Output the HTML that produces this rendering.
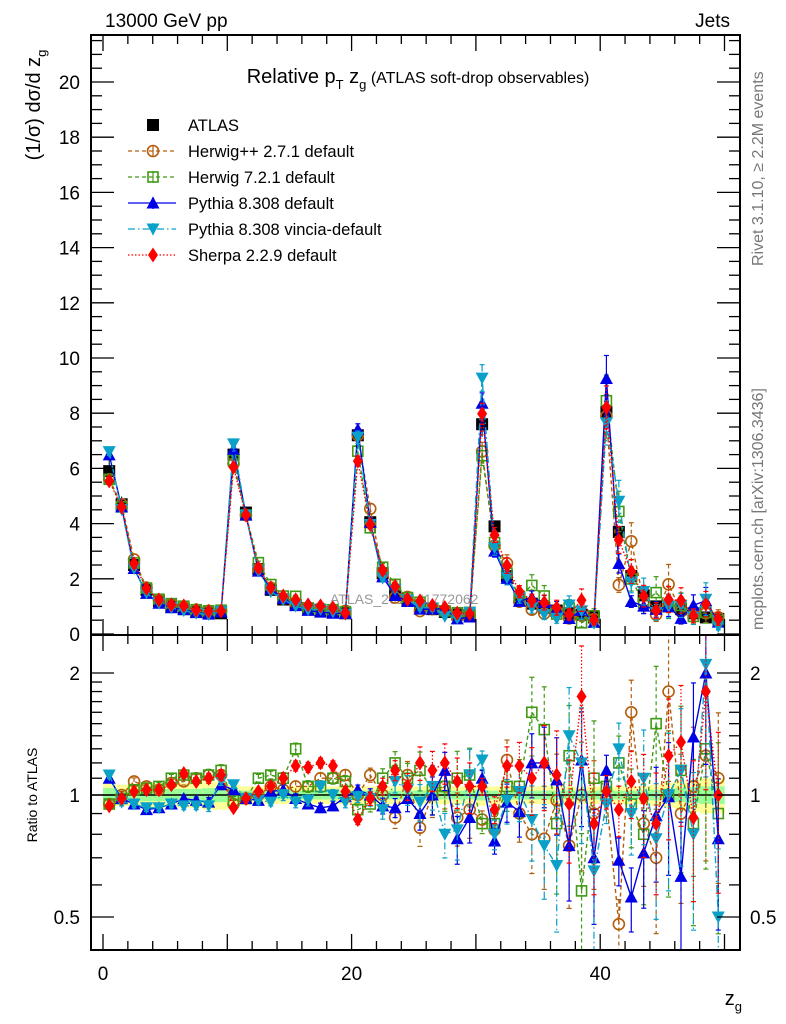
<!DOCTYPE html>
<html><head><meta charset="utf-8"><style>
body{margin:0;background:#fff}
svg{display:block;font-family:"Liberation Sans",sans-serif}
</style></head><body>
<svg id="c" width="786" height="1024" viewBox="0 0 786 1024" xmlns="http://www.w3.org/2000/svg">
<defs>
<clipPath id="cm"><rect x="91" y="35" width="649" height="600"/></clipPath>
<clipPath id="cr"><rect x="91" y="635" width="649" height="315"/></clipPath>
</defs>
<text x="105" y="27" font-size="19">13000 GeV pp</text>
<text x="730" y="27" font-size="19" text-anchor="end">Jets</text>
<text x="418" y="83" font-size="20" text-anchor="middle">Relative p<tspan dy="6" font-size="13">T</tspan><tspan dy="-6"> z</tspan><tspan dy="6" font-size="13">g</tspan><tspan dy="-6" font-size="16"> (ATLAS soft-drop observables)</tspan></text>
<text transform="translate(40,105) rotate(-90)" font-size="20" text-anchor="middle">(1/σ) dσ/d z<tspan dy="6" font-size="13">g</tspan></text>
<text transform="translate(37,795) rotate(-90)" font-size="14" text-anchor="middle">Ratio to ATLAS</text>
<text x="742" y="1005" font-size="20" text-anchor="end">z<tspan dy="6" font-size="13">g</tspan></text>
<text transform="translate(763,266) rotate(-90)" font-size="16" fill="#777">Rivet 3.1.10, ≥ 2.2M events</text>
<text transform="translate(763,630) rotate(-90)" font-size="16" fill="#777">mcplots.cern.ch [arXiv:1306.3436]</text>
<text x="330" y="604" font-size="14" fill="#999">ATLAS_2019_I1772062</text>
<g id="g"></g>
</svg>
<script>
const atlas=[5.9,4.7,2.5,1.6,1.2,1.0,0.9,0.8,0.75,0.75, 6.5,4.4,2.35,1.6,1.25,1.05,0.9,0.85,0.8,0.75, 7.2,4.05,2.2,1.5,1.2,1.0,0.9,0.8,0.7,0.7, 7.6,3.9,2.1,1.3,1.1,0.95,0.85,0.75,0.7,0.6, 8.05,3.7,2.1,1.4,1.0,1.0,0.9,0.75,0.6,0.55];
const atlasRelErr=[0.08,0.06,0.06,0.07,0.07,0.07,0.07,0.07,0.08,0.08, 0.06,0.05,0.05,0.05,0.05,0.05,0.05,0.05,0.05,0.05, 0.05,0.05,0.05,0.05,0.05,0.05,0.05,0.05,0.05,0.05, 0.06,0.05,0.05,0.05,0.05,0.05,0.05,0.05,0.05,0.05, 0.05,0.05,0.05,0.05,0.06,0.07,0.08,0.09,0.1,0.1];
const modelRelErr=[0.02,0.02,0.02,0.02,0.02,0.02,0.02,0.02,0.03,0.03, 0.02,0.02,0.02,0.02,0.03,0.03,0.03,0.03,0.03,0.03, 0.03,0.04,0.05,0.06,0.08,0.1,0.12,0.12,0.15,0.15, 0.05,0.08,0.12,0.15,0.2,0.25,0.3,0.3,0.35,0.35, 0.1,0.15,0.2,0.3,0.35,0.4,0.4,0.4,0.45,0.45];
const rHerwigpp=[0.95,1.0,1.08,1.05,1.03,1.07,1.08,1.1,1.12,1.12, 0.95,0.98,1.0,1.05,1.03,1.05,1.05,1.1,1.1,1.12, 1.0,1.12,1.0,0.88,1.12,0.83,1.0,1.05,0.88,0.92, 0.87,0.82,1.22,0.9,0.8,0.78,0.97,0.75,1.0,0.9, 0.98,0.48,1.6,0.85,0.7,1.8,0.9,1.05,1.25,1.1];
const rHerwig7=[0.95,0.98,1.03,1.04,1.05,1.1,1.12,1.1,1.12,1.15, 0.97,0.98,1.1,1.12,1.1,1.3,1.05,1.05,1.1,1.08, 0.92,0.95,1.1,1.2,1.1,1.15,1.03,1.05,1.1,1.12, 0.85,0.85,1.05,1.05,1.6,1.45,0.85,1.25,0.58,1.1, 1.05,1.2,0.95,0.8,1.5,1.0,1.15,0.85,1.3,0.9];
const rPythia=[1.1,0.98,0.95,0.92,0.93,0.95,0.98,0.97,0.96,1.06, 1.03,0.98,0.97,1.02,1.03,0.98,0.95,0.93,0.94,0.99, 1.03,1.0,0.94,0.93,0.98,0.9,1.0,1.15,0.78,0.88, 1.1,0.77,0.96,0.91,1.2,1.2,1.09,0.75,1.22,0.7, 1.15,0.69,0.56,0.72,0.89,0.99,0.63,1.39,2.0,0.78];
const rVincia=[1.12,0.96,0.95,0.93,0.93,0.95,0.94,0.94,0.94,1.09, 1.06,0.98,0.97,0.96,1.0,0.96,0.97,1.05,1.0,0.96, 0.99,0.98,0.92,1.08,1.03,0.96,1.05,0.8,0.82,1.12, 1.22,0.8,0.97,1.02,0.87,0.75,0.67,1.4,1.2,0.65, 0.95,1.3,0.9,1.1,0.78,1.0,1.15,0.8,2.1,0.5];
const rSherpa=[0.94,0.98,1.02,1.03,1.03,1.06,1.13,1.08,1.1,1.12, 0.93,0.98,1.02,1.05,1.1,1.18,1.17,1.2,1.18,1.02, 0.87,0.98,1.05,1.15,1.05,1.2,1.15,1.2,1.08,1.05, 1.05,0.92,1.18,1.18,1.1,1.2,1.12,0.95,1.75,0.85, 1.02,0.92,1.08,0.98,0.85,1.25,1.35,0.88,1.8,1.0];
const xTicks=[0,20,40];
const yTicks=[0,2,4,6,8,10,12,14,16,18,20];
const rTicks=[0.5,1,2];

const NS="http://www.w3.org/2000/svg";
const G=document.getElementById('g');
function el(t,a,p){const e=document.createElementNS(NS,t);for(const k in a)e.setAttribute(k,a[k]);(p||G).appendChild(e);return e;}
const X=v=>103+12.43*v;
const Y=v=>634-27.6*v;
const R=v=>795-122*Math.log2(v);

const band=el('g',{'clip-path':'url(#cr)'});


atlas.forEach((a,i)=>{const e=atlasRelErr[i];
 el('rect',{x:X(i),y:R(1+e),width:12.6,height:R(1-e)-R(1+e),fill:'#ffff99'},band);
 el('rect',{x:X(i),y:R(1+e*0.5),width:12.6,height:R(1-e*0.5)-R(1+e*0.5),fill:'#99ff99'},band);
});
el('line',{x1:91,x2:740,y1:R(1),y2:R(1),stroke:'#000','stroke-width':1.5});

function marker(parent,kind,cx,cy,col){
 const s=5.5;
 if(kind==='sq')return el('rect',{x:cx-6,y:cy-6,width:12,height:12,fill:col},parent);
 if(kind==='osq')return el('rect',{x:cx-s+0.5,y:cy-s+0.5,width:2*s-1,height:2*s-1,fill:'#fff','fill-opacity':0,stroke:col,'stroke-width':1.6},parent);
 if(kind==='oc')return el('circle',{cx:cx,cy:cy,r:s,fill:'none',stroke:col,'stroke-width':1.6},parent);
 if(kind==='tu')return el('polygon',{points:`${cx-6.5},${cy+5.5} ${cx+6.5},${cy+5.5} ${cx},${cy-6.5}`,fill:col},parent);
 if(kind==='td')return el('polygon',{points:`${cx-6.5},${cy-5.5} ${cx+6.5},${cy-5.5} ${cx},${cy+6.5}`,fill:col},parent);
 if(kind==='di')return el('polygon',{points:`${cx},${cy-7.5} ${cx+5},${cy} ${cx},${cy+7.5} ${cx-5},${cy}`,fill:col},parent);
}
const models=[
 {n:'herwigpp',r:rHerwigpp,c:'#b35c0a',m:'oc',d:'4,3',ef:1.0},
 {n:'herwig7',r:rHerwig7,c:'#3f9a14',m:'osq',d:'4,3',ef:1.1},
 {n:'pythia',r:rPythia,c:'#0000e6',m:'tu',d:'',ef:0.9},
 {n:'vincia',r:rVincia,c:'#0aa0c8',m:'td',d:'7,3,1.5,3',ef:1.05},
 {n:'sherpa',r:rSherpa,c:'#ff0000',m:'di',d:'1.5,2',ef:0.95}
];
function drawSeries(mo,panel){
 const gp=el('g',{'clip-path':panel==='main'?'url(#cm)':'url(#cr)'});
 
 
 const f=(i)=>panel==='main'?Y(atlas[i]*mo.r[i]):R(mo.r[i]);
 const pts=mo.r.map((v,i)=>X(i+0.5).toFixed(1)+','+f(i).toFixed(1)).join(' ');
 el('polyline',{points:pts,fill:'none',stroke:mo.c,'stroke-width':1.4,'stroke-dasharray':mo.d},gp);
 mo.r.forEach((v,i)=>{
  const e=modelRelErr[i]*mo.ef;
  let y1,y2;
  if(panel==='main'){const val=atlas[i]*v;y1=Y(val*(1+e));y2=Y(val*(1-e));}
  else{y1=R(v*(1+e));y2=R(Math.max(v*(1-e),0.3));}
  const cx=X(i+0.5);
  el('line',{x1:cx,x2:cx,y1:y1,y2:y2,stroke:mo.c,'stroke-width':1.2,'stroke-dasharray':mo.d},gp);
  el('line',{x1:cx-2.5,x2:cx+2.5,y1:y1,y2:y1,stroke:mo.c,'stroke-width':1.2},gp);
  el('line',{x1:cx-2.5,x2:cx+2.5,y1:y2,y2:y2,stroke:mo.c,'stroke-width':1.2},gp);
  const mk=marker(gp,mo.m,cx,f(i),mo.c);
  
  
 });
}
const ga=el('g',{'clip-path':'url(#cm)'});


atlas.forEach((a,i)=>{const cx=X(i+0.5);
 el('line',{x1:cx,x2:cx,y1:Y(a*(1+atlasRelErr[i])),y2:Y(a*(1-atlasRelErr[i])),stroke:'#000'},ga);
 const mk=marker(ga,'sq',cx,Y(a),'#000');
 
 
});
models.forEach(m=>drawSeries(m,'main'));
models.forEach(m=>drawSeries(m,'ratio'));

el('rect',{x:91,y:35,width:649,height:600,fill:'none',stroke:'#000','stroke-width':2});
el('rect',{x:91,y:635,width:649,height:315,fill:'none',stroke:'#000','stroke-width':2});
for(let v=0;v<=50;v+=2){const big=v%10===0;const x=X(v);const L=big?16:9;
 [[35,35+L],[635,635-L],[635,635+L],[950,950-L]].forEach(([a,b])=>el('line',{x1:x,x2:x,y1:a,y2:b,stroke:'#000','stroke-width':1.3}));}
xTicks.forEach(v=>{const t=el('text',{x:X(v),y:980,'font-size':19,'text-anchor':'middle'});t.textContent=v;
 });
for(let v=0;v<=21.5;v+=0.5){const big=Math.abs(v%2)<1e-9;const y=Y(v);const L=big?23:11;
 el('line',{x1:91,x2:91+L,y1:y,y2:y,stroke:'#000','stroke-width':1.3});
 el('line',{x1:740,x2:740-L,y1:y,y2:y,stroke:'#000','stroke-width':1.3});}
yTicks.forEach(v=>{const t=el('text',{x:80,y:Y(v)+7,'font-size':19,'text-anchor':'end'});t.textContent=v;
 });
[0.5,0.6,0.7,0.8,0.9,1,1.1,1.2,1.3,1.4,1.5,1.6,1.7,1.8,1.9,2].forEach(v=>{const big=rTicks.includes(v);const y=R(v);const L=big?23:11;
 el('line',{x1:91,x2:91+L,y1:y,y2:y,stroke:'#000','stroke-width':1.3});
 el('line',{x1:740,x2:740-L,y1:y,y2:y,stroke:'#000','stroke-width':1.3});});
rTicks.forEach(v=>{const t=el('text',{x:80,y:R(v)+7,'font-size':19,'text-anchor':'end'});t.textContent=v;
 
 const t2=el('text',{x:750,y:R(v)+7,'font-size':19});t2.textContent=v;
 });
const leg=el('g',{});


const labels=['ATLAS','Herwig++ 2.7.1 default','Herwig 7.2.1 default','Pythia 8.308 default','Pythia 8.308 vincia-default','Sherpa 2.2.9 default'];
labels.forEach((lab,k)=>{const y=125+26*k;
 const row=el('g',{},leg);
 
 
 if(k===0){marker(row,'sq',153,y,'#000');}
 else{const mo=models[k-1];
  el('line',{x1:128,x2:176,y1:y,y2:y,stroke:mo.c,'stroke-width':1.3,'stroke-dasharray':mo.d},row);
  el('line',{x1:153,x2:153,y1:y-6,y2:y+6,stroke:mo.c,'stroke-width':1.2},row);
  marker(row,mo.m,153,y,mo.c);}
 const t=el('text',{x:188,y:y+6,'font-size':16.5},row);t.textContent=lab;});
</script>
</body></html>
